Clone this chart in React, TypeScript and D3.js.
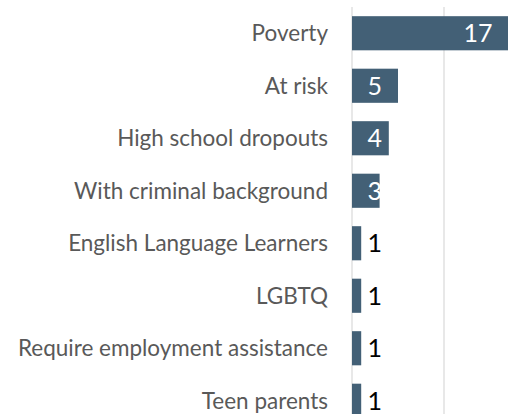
import { useEffect, useRef } from 'react';
import * as d3 from 'd3';

const categories = [
  'Poverty',
  'At risk',
  'High school dropouts',
  'With criminal background',
  'English Language Learners',
  'LGBTQ',
  'Require employment assistance',
  'Teen parents',
];
const counts = [17, 5, 4, 3, 1, 1, 1, 1];
const gridTicks = [0, 10, 20];

export default function App() {
  const svgRef = useRef<SVGSVGElement>(null);

  useEffect(() => {
    if (!svgRef.current) return;
    const height = 414;
    const svg = d3.select(svgRef.current);
    svg.selectAll('*').remove();

    const rows = categories.map((name, i) => ({ name, value: counts[i] }));

    // axis sits at 352px, 10 units ~ 92px, chart runs off the right edge
    const x = d3.scaleLinear().domain([0, 20]).range([352, 536]);
    const y = d3.scaleBand()
      .domain(categories)
      .range([7, 427])
      .paddingInner(0.35)
      .paddingOuter(0.175);

    // gridlines
    svg.append('g')
      .selectAll('line')
      .data(gridTicks)
      .enter().append('line')
      .attr('x1', d => x(d))
      .attr('x2', d => x(d))
      .attr('y1', 7)
      .attr('y2', height)
      .attr('stroke', '#d9d9d9')
      .attr('stroke-width', 1.2);

    // bars
    svg.append('g')
      .selectAll('rect')
      .data(rows)
      .enter().append('rect')
      .attr('x', x(0))
      .attr('y', d => y(d.name) || 0)
      .attr('width', d => x(d.value) - x(0))
      .attr('height', y.bandwidth())
      .attr('fill', '#436076');

    // category labels
    svg.append('g')
      .selectAll('text')
      .data(rows)
      .enter().append('text')
      .attr('x', x(0) - 24)
      .attr('y', d => (y(d.name) || 0) + y.bandwidth() / 2)
      .attr('dy', '0.36em')
      .attr('text-anchor', 'end')
      .style('font-family', 'Lato, sans-serif')
      .style('font-size', '22.5px')
      .style('fill', '#595959')
      .text(d => d.name);

    // value labels: inside end, but never closer than ~30px to the axis
    svg.append('g')
      .selectAll('text')
      .data(rows)
      .enter().append('text')
      .attr('x', d => Math.max(x(d.value) - 16, x(0) + 30))
      .attr('y', d => (y(d.name) || 0) + y.bandwidth() / 2)
      .attr('dy', '0.36em')
      .attr('text-anchor', 'end')
      .style('font-family', 'Lato, sans-serif')
      .style('font-size', '25px')
      .style('fill', d => (x(d.value) - x(0) > 15 ? '#ffffff' : '#000000'))
      .text(d => d.value);
  }, []);

  return (
    <svg
      ref={svgRef}
      width={508}
      height={414}
      style={{ position: 'absolute', left: 0, top: 0, display: 'block', background: '#fff' }}
    />
  );
}
